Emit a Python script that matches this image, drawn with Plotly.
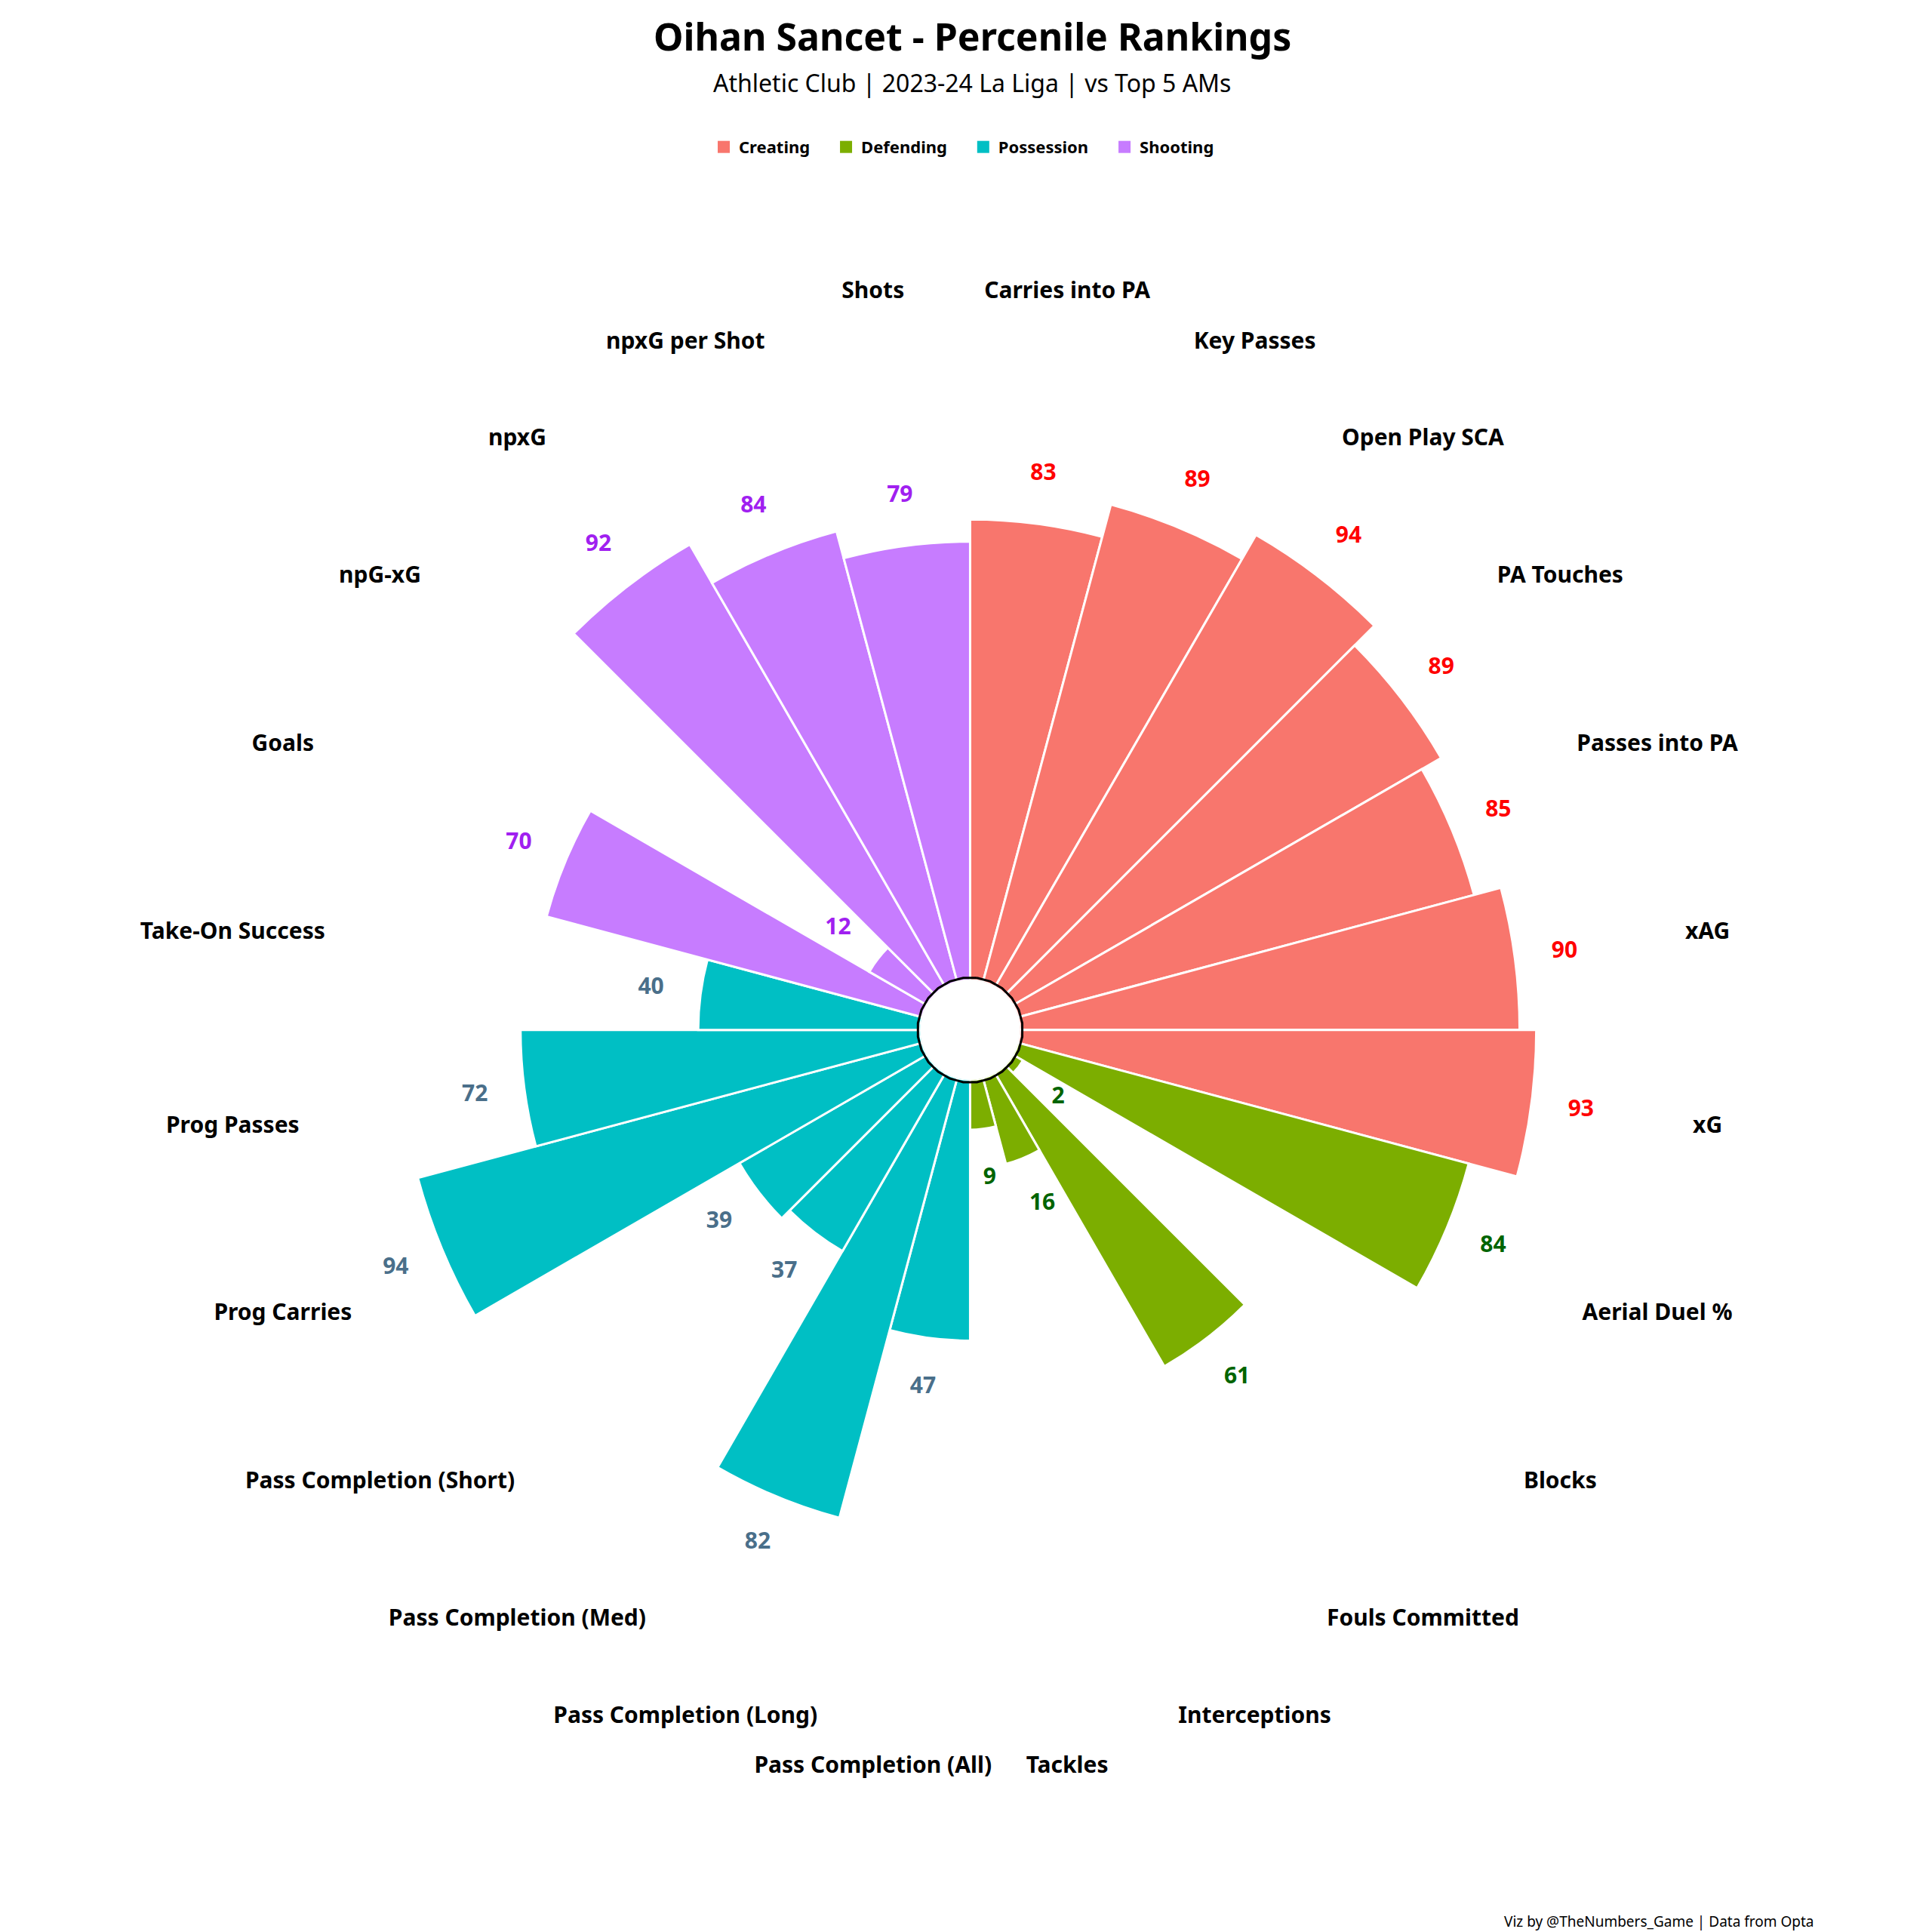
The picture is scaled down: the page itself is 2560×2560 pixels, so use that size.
import plotly.graph_objects as go

metrics = [
    "Carries into PA", "Key Passes", "Open Play SCA", "PA Touches", "Passes into PA", "xAG", "xG",
    "Aerial Duel %", "Blocks", "Fouls Committed", "Interceptions", "Tackles",
    "Pass Completion (All)", "Pass Completion (Long)", "Pass Completion (Med)",
    "Pass Completion (Short)", "Prog Carries", "Prog Passes", "Take-On Success",
    "Goals", "npG-xG", "npxG", "npxG per Shot", "Shots",
]
values = [83, 89, 94, 89, 85, 90, 93,
          84, 2, 61, 16, 9,
          47, 82, 37, 39, 94, 72, 40,
          70, 12, 92, 84, 79]
groups = ["Creating"] * 7 + ["Defending"] * 5 + ["Possession"] * 7 + ["Shooting"] * 5

bar_colors = {"Creating": "#F8766D", "Defending": "#7CAE00",
              "Possession": "#00BFC4", "Shooting": "#C77CFF"}
text_colors = {"Creating": "#FF0000", "Defending": "#006400",
               "Possession": "#4A6F8A", "Shooting": "#A020F0"}

FONT = "Noto Sans"
fig = go.Figure()

for g in bar_colors:
    idx = [i for i, gg in enumerate(groups) if gg == g]
    fig.add_trace(go.Barpolar(
        theta=[metrics[i] for i in idx], r=[values[i] for i in idx],
        width=1, name=g, showlegend=False,
        marker=dict(color=bar_colors[g], line=dict(color="white", width=3)),
        hoverinfo="skip",
    ))
    # legend-only square swatch
    fig.add_trace(go.Scatter(
        x=[None], y=[None], mode="markers", name=g + "    ",
        marker=dict(symbol="square", size=40, color=bar_colors[g]),
    ))

# value labels
fig.add_trace(go.Scatterpolar(
    theta=metrics, r=[v + 9 for v in values], mode="text",
    text=[str(v) for v in values],
    textfont=dict(family=FONT, size=30, color=[text_colors[g] for g in groups], weight="bold"),
    showlegend=False, hoverinfo="skip",
))
# category labels
fig.add_trace(go.Scatterpolar(
    theta=metrics, r=[125] * len(metrics), mode="text", text=metrics,
    textfont=dict(family=FONT, size=30, color="black", weight="bold"),
    showlegend=False, hoverinfo="skip",
))
# center outline
fig.add_trace(go.Scatterpolar(
    theta=metrics + metrics[:1], r=[0.5] * (len(metrics) + 1), mode="lines",
    line=dict(color="black", width=3), showlegend=False, hoverinfo="skip",
))

fig.update_layout(
    width=2560, height=2560, paper_bgcolor="white", plot_bgcolor="white",
    font=dict(family=FONT, color="black"),
    margin=dict(l=0, r=0, t=0, b=0),
    xaxis=dict(visible=False), yaxis=dict(visible=False),
    polar=dict(
        domain=dict(x=[0.114, 0.884], y=[0.085, 0.855]),
        hole=0.067, bgcolor="white", bargap=0,
        radialaxis=dict(range=[0, 125], visible=False, showgrid=False),
        angularaxis=dict(direction="clockwise", rotation=82.5, categoryorder="array",
                         categoryarray=metrics, showticklabels=False, showgrid=False,
                         showline=False, ticks=""),
    ),
    legend=dict(orientation="h", x=0.5, xanchor="center", y=0.927, yanchor="middle",
                font=dict(family=FONT, size=22, weight="bold"), traceorder="normal"),
    annotations=[
        dict(text="<b>Oihan Sancet - Percenile Rankings</b>", x=0.5, y=1 - 40 / 2560,
             xref="paper", yref="paper", yanchor="middle", showarrow=False,
             font=dict(size=50, family=FONT)),
        dict(text="Athletic Club | 2023-24 La Liga | vs Top 5 AMs", x=0.5, y=1 - 102 / 2560,
             xref="paper", yref="paper", yanchor="middle", showarrow=False,
             font=dict(size=32, family=FONT)),
        dict(text="Viz by @TheNumbers_Game | Data from Opta", x=2398 / 2560, y=1 - 2538 / 2560,
             xref="paper", yref="paper", xanchor="right", yanchor="middle", showarrow=False,
             font=dict(size=19, family=FONT)),
    ],
)

fig.write_html("out.html")
